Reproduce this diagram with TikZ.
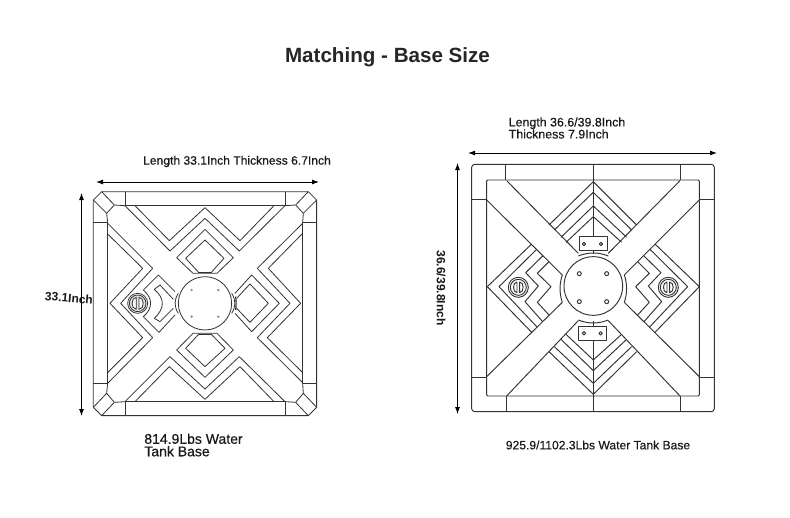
\documentclass[tikz,border=0pt]{standalone}
\usepackage{fontspec}
\setmainfont{Liberation Sans}
\newfontfamily\medfont[FakeBold=0.4]{Liberation Sans}
\usetikzlibrary{arrows.meta}
\tikzset{
 shp/.style={draw=black!80,line width=0.8pt,line join=round},
 rshp/.style={draw=black!80,line width=0.95pt,line join=round},
 dim/.style={draw=black,line width=0.9pt,{Latex[length=7pt,width=5pt]}-{Latex[length=7pt,width=5pt]}},
 lbl/.style={inner sep=0pt,text=black!90,font=\medfont\fontsize{12.1}{12}\selectfont,align=left},
 blbl/.style={lbl,font=\fontsize{12}{12}\selectfont\bfseries},
}
\begin{document}
\begin{tikzpicture}[x=1pt,y=-1pt]
\useasboundingbox (0,0) rectangle (790,517);
\fill[white] (0,0) rectangle (790,517);
\node[inner sep=0pt,text=black!85,font=\bfseries\fontsize{20.6}{22}\selectfont] (title) at (387.5,57) {Matching - Base Size};
% Left dimension
\coordinate (la) at (96,182); \coordinate (lb) at (319,182);
\draw[dim] (la) -- (lb);
\coordinate (lc) at (81.5,193); \coordinate (ld) at (81.5,416);
\draw[dim] (lc) -- (ld);
\node[lbl] (t1) at (237,161.5) {Length 33.1Inch Thickness 6.7Inch};
\node[blbl,rotate=-5] (t2) at (69,298) {33.1Inch};
\node[lbl,font=\medfont\fontsize{14}{12.5}\selectfont] (t3) at (193.5,445) {814.9Lbs Water\\Tank Base};
% Right dimension
\coordinate (ra) at (468,153); \coordinate (rb) at (717,153);
\draw[dim] (ra) -- (rb);
\coordinate (rc) at (457.5,163); \coordinate (rd) at (457.5,414);
\draw[dim] (rc) -- (rd);
\node[lbl,font=\medfont\fontsize{12.4}{12}\selectfont] (t4) at (567,128) {Length 36.6/39.8Inch\\Thickness 7.9Inch};
\node[blbl,rotate=-90] (t5) at (441,288) {36.6/39.8Inch};
\node[lbl] (t6) at (598,445) {925.9/1102.3Lbs Water Tank Base};
% Left tank
\begin{scope}[shift={(70,170)},x=0.3333pt,y=-0.3333pt]
\draw[shp] (95,65)--(715,65)--(740,90)--(740,712)--(715,737)--(95,737)--(70,712)--(70,90)--cycle;
\draw[shp] (165,65)--(165,107)--(645,107)--(645,65);
\draw[shp] (165,737)--(165,695)--(645,695)--(645,737);
\draw[shp] (70,158)--(113,158)--(113,640)--(70,640);
\draw[shp] (740,158)--(698,158)--(698,640)--(740,640);
\draw[shp] (95,65)--(133,105)--(110,130)--(70,90);
\draw[shp] (133,105)--(165,107) (110,130)--(113,158);
\draw[shp] (715,65)--(677,105)--(700,130)--(740,90);
\draw[shp] (677,105)--(645,107) (700,130)--(698,158);
\draw[shp] (95,737)--(133,697)--(110,670)--(70,712);
\draw[shp] (133,697)--(165,695) (110,670)--(113,640);
\draw[shp] (715,737)--(677,697)--(700,670)--(740,712);
\draw[shp] (677,697)--(645,695) (700,670)--(698,640);
% zigzags
\draw[shp] (165,107)--(300,243)--(405,145)--(508,243)--(645,107);
\draw[shp] (195,107)--(298,212)--(405,113)--(510,212)--(612,107);
\draw[shp] (165,695)--(300,560)--(405,657)--(508,560)--(645,695);
\draw[shp] (195,695)--(298,590)--(405,688)--(510,590)--(612,695);
\draw[shp] (698,160)--(562,295)--(660,400)--(562,503)--(698,638);
\draw[shp] (698,190)--(595,295)--(692,400)--(592,503)--(698,608);
\draw[shp] (113,160)--(248,295)--(152,400)--(248,503)--(113,640);
\draw[shp] (113,192)--(218,295)--(120,400)--(218,503)--(113,608);
% diamonds
\draw[shp] (320,263)--(369,310)--(441,310)--(490,263)--(405,178)--cycle;
\draw[shp] (385,306)--(347,265)--(405,210)--(462,265)--(425,306);
\draw[shp,line width=1.2pt] (385,307)--(425,307);
\draw[shp] (320,540)--(369,490)--(441,490)--(490,540)--(405,622)--cycle;
\draw[shp] (385,494)--(347,535)--(405,590)--(465,535)--(425,494);
\draw[shp,line width=1.2pt] (385,493)--(425,493);
\draw[shp] (495,370)--(545,315)--(628,400)--(545,485)--(495,430);
\draw[shp] (500,385)--(540,342)--(595,400)--(540,457)--(500,415);
\draw[shp,line width=1.2pt] (497,380) .. controls (499,393) and (499,407) .. (497,420);
% left diamond and crescent
\draw[shp] (315,365)--(265,315)--(220,360) .. controls (249,385) and (249,415) .. (220,440)--(267,487)--(315,435);
\draw[shp] (310,388)--(270,345)--(253,358) .. controls (285,385) and (285,415) .. (253,445)--(270,455)--(310,415);
% central
\draw[shp] (405,400) circle[radius=80];
\draw[shp] (325,370) .. controls (312,390) and (312,410) .. (325,430);
\draw[shp] (485,370) .. controls (498,390) and (498,410) .. (485,430);
\foreach \p in {(365,360),(445,360),(365,440),(445,440)} \fill[black!45] \p circle[radius=4];
% valve
\draw[shp] (203,400) circle[radius=30];
\draw[shp,fill=black!12] (203,400) circle[radius=25];
\draw[shp,fill=white] (199,382) .. controls (182,382) and (182,418) .. (199,418) -- cycle;
\draw[shp,fill=white] (207,382) .. controls (224,382) and (224,418) .. (207,418) -- cycle;
\end{scope}
% Right tank
\begin{scope}[shift={(450,150)},x=0.3333pt,y=-0.3333pt]
\draw[rshp,rounded corners=3pt] (65,43) rectangle (793,785);
\draw[rshp,rounded corners=1pt] (110,90) rectangle (748,738);
\draw[rshp] (167,43)--(167,90) (690,43)--(690,90) (430,43)--(430,90);
\draw[rshp] (168,738)--(168,785) (690,738)--(690,785) (430,738)--(430,785);
\draw[rshp] (65,147)--(110,147) (65,682)--(110,682) (748,147)--(793,147) (748,682)--(793,682);
% X
\draw[rshp] (170,92)--(385,310) (110,150)--(337,375);
\draw[rshp] (690,92)--(475,310) (748,150)--(523,375);
\draw[rshp] (110,680)--(337,457) (170,738)--(385,512);
\draw[rshp] (748,680)--(523,457) (690,738)--(475,512);
% chevrons
\draw[rshp] (297,225)--(430,95)--(560,225);
\draw[rshp] (313,240)--(430,127)--(545,240);
\draw[rshp] (333,262)--(430,168)--(530,262);
\draw[rshp] (348,277)--(430,200)--(515,277);
\draw[rshp] (430,90)--(430,260) (430,302)--(430,312);
\draw[rshp] (297,605)--(430,733)--(560,605);
\draw[rshp] (313,590)--(430,700)--(545,590);
\draw[rshp] (333,568)--(430,662)--(530,568);
\draw[rshp] (348,553)--(430,630)--(515,553);
\draw[rshp] (430,738)--(430,570) (430,512)--(430,528);
\draw[rshp] (387,260) rectangle (472,302);
\draw[rshp] (385,528) rectangle (470,570);
\foreach \p in {(402,282),(453,282),(402,550),(452,550)} \draw[rshp] \p circle[radius=5];
% central
\draw[rshp] (430,408) circle[radius=88];
\foreach \p in {(388,371),(470,371),(388,455),(470,455)} \draw[rshp] \p circle[radius=6];
\draw[rshp] (385,318) .. controls (415,306) and (445,306) .. (475,318);
\draw[rshp] (385,510) .. controls (415,522) and (445,522) .. (475,510);
\draw[rshp] (337,375) .. controls (328,400) and (328,432) .. (337,457);
\draw[rshp] (523,375) .. controls (532,400) and (532,432) .. (523,457);
% left side
\draw[rshp] (245,282)--(112,410)--(245,547);
\draw[rshp] (260,298)--(147,410)--(262,532);
\draw[rshp] (278,318)--(227,368)--(265,408)--(225,455)--(278,515);
\draw[rshp] (297,335)--(262,370)--(303,410)--(262,457)--(297,495);
% right side
\draw[rshp] (615,282)--(748,410)--(615,547);
\draw[rshp] (600,298)--(713,410)--(598,532);
\draw[rshp] (582,318)--(633,368)--(595,408)--(635,455)--(582,515);
\draw[rshp] (563,335)--(598,370)--(557,410)--(598,457)--(563,495);
% valves
\foreach \cx in {205,655}{
 \draw[rshp] (\cx,412) circle[radius=30];
 \draw[rshp] (\cx,412) circle[radius=24];
 \draw[rshp,fill=white] (\cx-4,396) .. controls (\cx-18,396) and (\cx-18,428) .. (\cx-4,428) -- cycle;
 \draw[rshp,fill=white] (\cx+4,396) .. controls (\cx+18,396) and (\cx+18,428) .. (\cx+4,428) -- cycle;
}
\end{scope}
\end{tikzpicture}
\end{document}
